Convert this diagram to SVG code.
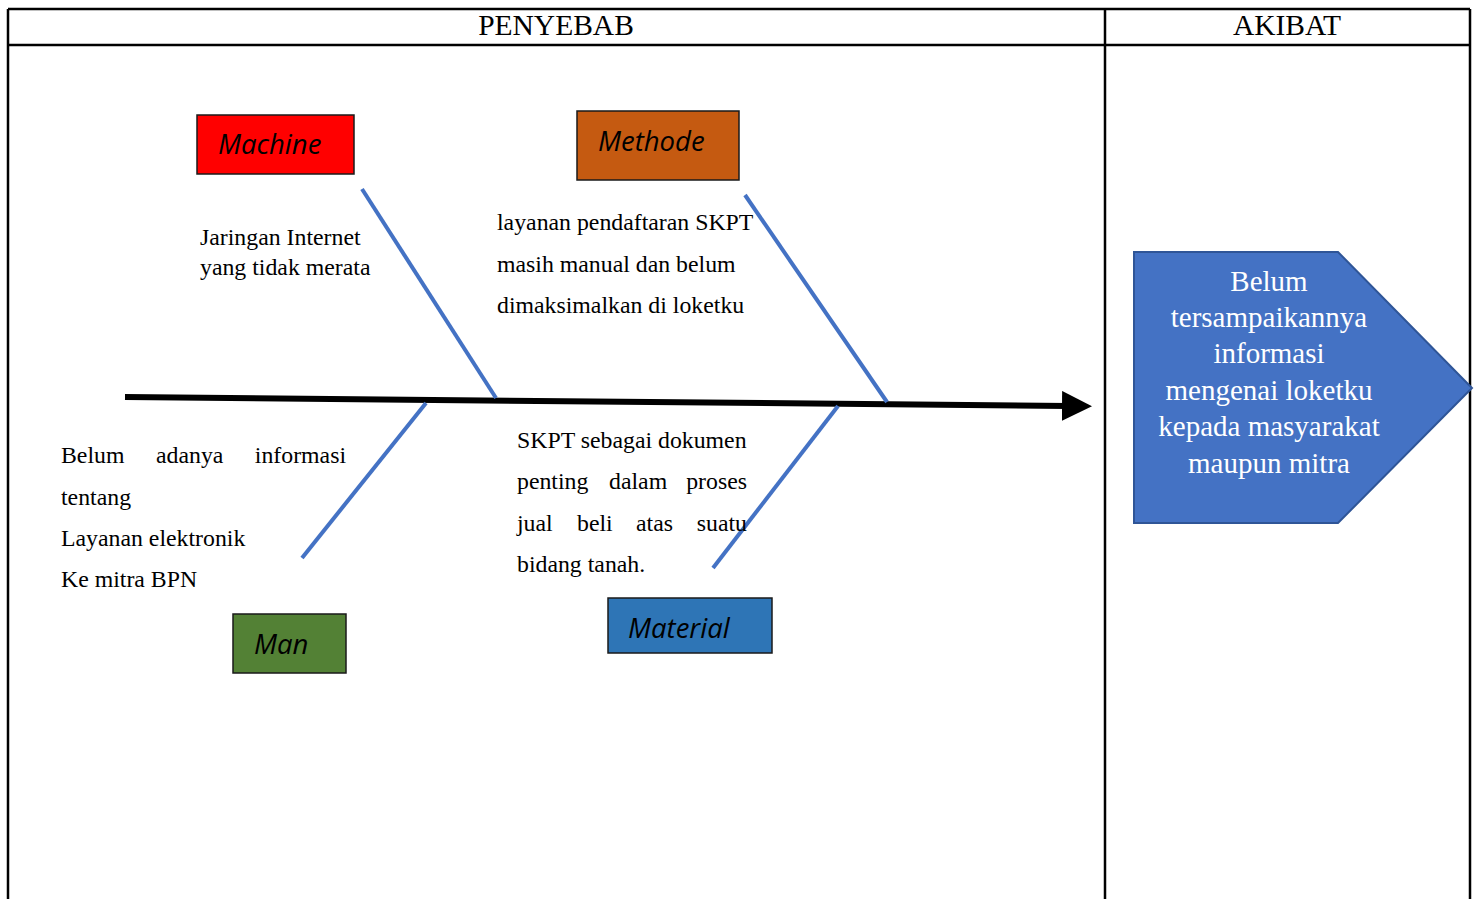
<svg xmlns="http://www.w3.org/2000/svg" width="1477" height="899" viewBox="0 0 1477 899">
<style>
.t{font-family:"Liberation Serif","Times New Roman",serif;font-size:23.8px;fill:#000}
.h{font-family:"Liberation Serif","Times New Roman",serif;font-size:29.5px;fill:#000}
.lbl{font-family:"Open Sans","Liberation Sans",sans-serif;font-style:italic;font-size:27.5px;fill:#000}
.box{stroke:#1a1a1a;stroke-width:1.5}
.bone{stroke:#4472C4;stroke-width:4;fill:none}
.eff{font-family:"Liberation Serif","Times New Roman",serif;font-size:29px;fill:#fff;text-anchor:middle}
</style>
<defs>
<marker id="arr" markerWidth="5" markerHeight="5" refX="1" refY="2.5" orient="auto" markerUnits="strokeWidth">
<path d="M0,0 L5,2.5 L0,5 z" fill="#000"/>
</marker>
</defs>
<rect width="1477" height="899" fill="#fff"/>
<g id="table" stroke="#000" stroke-width="2.5" fill="none">
<line x1="8" y1="9" x2="1470" y2="9"/>
<line x1="8" y1="45" x2="1470" y2="45"/>
<line x1="8" y1="9" x2="8" y2="899"/>
<line x1="1105" y1="9" x2="1105" y2="899"/>
<line x1="1470" y1="9" x2="1470" y2="899"/>
</g>
<text class="h" x="556" y="35" text-anchor="middle">PENYEBAB</text>
<text class="h" x="1287" y="35" text-anchor="middle">AKIBAT</text>
<g id="connectors">
<line x1="125" y1="397" x2="1068" y2="406" stroke="#000" stroke-width="6" marker-end="url(#arr)"/>
<line class="bone" x1="362" y1="189" x2="496" y2="398"/>
<line class="bone" x1="745" y1="195" x2="887" y2="402"/>
<line class="bone" x1="302" y1="558" x2="426" y2="403"/>
<line class="bone" x1="713" y1="568" x2="838" y2="406"/>
</g>
<g id="machine">
<rect class="box" x="197" y="115" width="157" height="59" fill="#FF0000"/>
<text class="lbl" x="218" y="154">Machine</text>
</g>
<g id="methode">
<rect class="box" x="577" y="111" width="162" height="69" fill="#C55A11"/>
<text class="lbl" x="598" y="151">Methode</text>
</g>
<g id="man">
<rect class="box" x="233" y="614" width="113" height="59" fill="#538135"/>
<text class="lbl" x="254" y="654">Man</text>
</g>
<g id="material">
<rect class="box" x="608" y="598" width="164" height="55" fill="#2E75B6"/>
<text class="lbl" x="628" y="638">Material</text>
</g>
<g id="cause-machine">
<text class="t" x="200" y="245">Jaringan Internet</text>
<text class="t" x="200" y="275">yang tidak merata</text>
</g>
<g id="cause-methode">
<text class="t" x="497" y="230">layanan pendaftaran SKPT</text>
<text class="t" x="497" y="272">masih manual dan belum</text>
<text class="t" x="497" y="313">dimaksimalkan di loketku</text>
</g>
<g id="cause-man">
<text class="t" x="61" y="463">Belum</text>
<text class="t" x="156" y="463">adanya</text>
<text class="t" x="346" y="463" text-anchor="end">informasi</text>
<text class="t" x="61" y="505">tentang</text>
<text class="t" x="61" y="546">Layanan elektronik</text>
<text class="t" x="61" y="587">Ke mitra BPN</text>
</g>
<g id="cause-material">
<text class="t" x="517" y="448">SKPT sebagai dokumen</text>
<text class="t" x="517" y="489">penting</text>
<text class="t" x="609" y="489">dalam</text>
<text class="t" x="747" y="489" text-anchor="end">proses</text>
<text class="t" x="517" y="531">jual</text>
<text class="t" x="577" y="531">beli</text>
<text class="t" x="636" y="531">atas</text>
<text class="t" x="747" y="531" text-anchor="end">suatu</text>
<text class="t" x="517" y="572">bidang tanah.</text>
</g>
<g id="effect">
<polygon points="1134,252 1338,252 1472,388 1338,523 1134,523" fill="#4472C4" stroke="#2F5597" stroke-width="2"/>
<text class="eff" x="1269" y="291">Belum</text>
<text class="eff" x="1269" y="327">tersampaikannya</text>
<text class="eff" x="1269" y="363">informasi</text>
<text class="eff" x="1269" y="400">mengenai loketku</text>
<text class="eff" x="1269" y="436">kepada masyarakat</text>
<text class="eff" x="1269" y="473">maupun mitra</text>
</g>
</svg>
